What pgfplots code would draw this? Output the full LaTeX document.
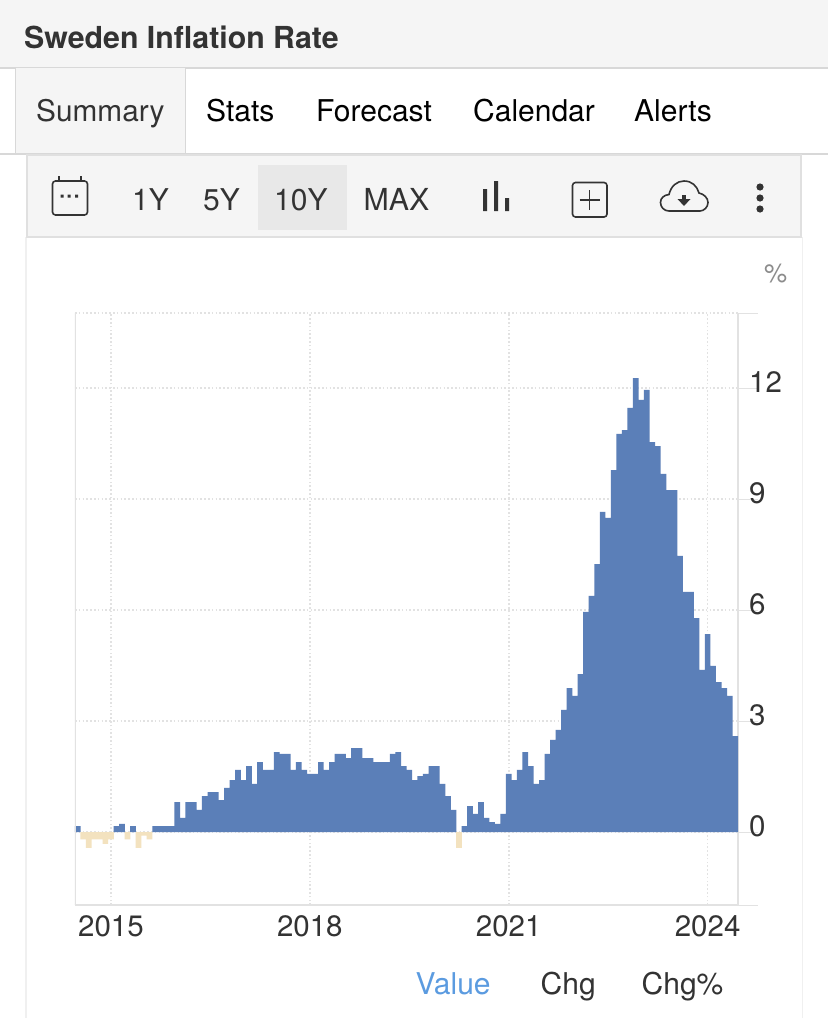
\documentclass[border=0pt]{standalone}
\usepackage{pgfplots}
\usepackage{pgfplotstable}
\usepackage{fontspec}
\pgfplotsset{compat=1.18}
\setmainfont{TeX Gyre Heros}

\definecolor{barblue}{HTML}{5B7FB8}
\definecolor{barneg}{HTML}{F3E2BF}
\definecolor{panel}{HTML}{F5F5F5}
\definecolor{rule}{HTML}{D8D8D8}
\definecolor{axisgray}{HTML}{E2E2E2}
\definecolor{gridgray}{HTML}{E2E2E2}
\definecolor{ink}{HTML}{333333}
\definecolor{linkblue}{HTML}{5B9BE0}

\newcommand{\fs}[1]{\fontsize{#1}{#1}\selectfont}

% monthly, index 0 = Jul 2014
\pgfplotstableread{
m v
0 0.16
1 -0.2
2 -0.43
3 -0.2
4 -0.2
5 -0.32
6 -0.2
7 0.16
8 0.22
9 -0.2
10 0.16
11 -0.43
12 -0.1
13 -0.2
14 0.16
15 0.16
16 0.16
17 0.16
18 0.81
19 0.38
20 0.81
21 0.81
22 0.6
23 0.97
24 1.08
25 1.08
26 0.86
27 1.19
28 1.4
29 1.68
30 1.4
31 1.78
32 1.3
33 1.89
34 1.68
35 1.68
36 2.16
37 2.11
38 2.11
39 1.68
40 1.89
41 1.68
42 1.57
43 1.57
44 1.89
45 1.68
46 1.89
47 2.11
48 2.11
49 2.0
50 2.27
51 2.27
52 2.0
53 2.0
54 1.89
55 1.89
56 1.89
57 2.11
58 2.16
59 1.78
60 1.68
61 1.4
62 1.51
63 1.57
64 1.78
65 1.78
66 1.3
67 0.97
68 0.6
69 -0.43
70 0.16
71 0.7
72 0.49
73 0.81
74 0.38
75 0.27
76 0.22
77 0.49
78 1.57
79 1.4
80 1.68
81 2.16
82 1.78
83 1.3
84 1.4
85 2.11
86 2.49
87 2.76
88 3.3
89 3.89
90 3.68
91 4.27
92 5.95
93 6.38
94 7.24
95 8.65
96 8.49
97 9.78
98 10.76
99 10.86
100 11.46
101 12.27
102 11.68
103 11.95
104 10.54
105 10.43
106 9.68
107 9.24
108 9.24
109 7.46
110 6.49
111 6.49
112 5.78
113 4.38
114 5.35
115 4.49
116 4.05
117 3.89
118 3.68
119 2.59
}\inflation

\begin{document}
\begin{tikzpicture}
\begin{scope}[x=1pt,y=-1pt]
  \path[use as bounding box] (0,0) rectangle (828,1018);
  \fill[white] (0,0) rectangle (828,1018);

  % page header and tabs
  \fill[panel] (0,0) rectangle (828,68);
  \draw[rule,line width=2pt] (0,68) -- (828,68);
  \node[anchor=base west,inner sep=0pt,text=ink] at (24,48) {\fs{30.3}\bfseries Sweden Inflation Rate};
  \fill[panel] (15,68) rectangle (185,154);
  \draw[rule,line width=1pt] (15,68) -- (15,154) (185,68) -- (185,154);
  \draw[rule,line width=2pt] (0,154) -- (828,154);
  \node[anchor=base west,inner sep=0pt,text=ink] at (36,121) {\fs{29.8}Summary};
  \node[anchor=base west,inner sep=0pt] at (206,121) {\fs{30}Stats};
  \node[anchor=base west,inner sep=0pt] at (316,121) {\fs{30}Forecast};
  \node[anchor=base west,inner sep=0pt] at (473,121) {\fs{30}Calendar};
  \node[anchor=base west,inner sep=0pt] at (634,121) {\fs{30}Alerts};

  % chart panel and toolbar
  \draw[black!6,line width=1.5pt] (26,237) -- (26,1018) (802.5,237) -- (802.5,1018);
  \filldraw[fill=panel,draw=rule!80,line width=2pt] (27,155) rectangle (801,237);
  \fill[black!9] (258,165) rectangle (347,230);
  \node[anchor=base west,inner sep=0pt,text=ink] at (132,210) {\fs{30}1Y};
  \node[anchor=base west,inner sep=0pt,text=ink] at (203,210) {\fs{30}5Y};
  \node[anchor=base west,inner sep=0pt,text=ink] at (274,210) {\fs{30}10Y};
  \node[anchor=base west,inner sep=0pt,text=ink] at (363.5,210) {\fs{30.3}MAX};

  % calendar icon
  \draw[ink,line width=1.6pt,rounded corners=3pt] (52.5,181) rectangle (87.5,215);
  \draw[ink,line width=1.6pt] (59,176) -- (59,181) (81,176) -- (81,181);
  \fill[ink] (60.5,194.5) rectangle (63.5,197.5) (67.5,194.5) rectangle (70.5,197.5) (75,194.5) rectangle (78,197.5);
  % bars icon
  \fill[ink] (483,189) rectangle (487,211) (494,181) rectangle (498,211) (505,198) rectangle (509,211);
  % plus icon
  \draw[ink,line width=1.6pt,rounded corners=3pt] (572.5,182.5) rectangle (607,217);
  \draw[ink,line width=1.4pt] (579.5,200) -- (599.5,200) (589.7,190) -- (589.7,210);
  % cloud icon
  \draw[ink,line width=1.6pt] (669,211) .. controls (664,211) and (660.5,207) .. (660.5,202.5)
    .. controls (660.5,198) and (664,195) .. (669,194.5)
    .. controls (671,186) and (677,181) .. (684,181)
    .. controls (692,181) and (697,186) .. (699,193)
    .. controls (704,194) and (708,198) .. (708,202.5)
    .. controls (708,207) and (704,211) .. (700,211) -- cycle;
  \fill[ink] (682,195) rectangle (686,200);
  \fill[ink] (677.5,199) -- (690.5,199) -- (684,206) -- cycle;
  % menu dots
  \fill[ink] (760,187) circle (3.6) (760,198) circle (3.6) (760,209) circle (3.6);

  \node[anchor=base west,inner sep=0pt,text=black!45] at (764,282) {\fs{26}\%};
  \node[anchor=base west,inner sep=0pt,text=linkblue] at (415.5,994) {\fs{30}Value};
  \node[anchor=base west,inner sep=0pt,text=ink] at (540.5,994) {\fs{30}Chg};
  \node[anchor=base west,inner sep=0pt,text=ink] at (641.5,994) {\fs{30}Chg\%};
\end{scope}

\begin{axis}[
    at={(75pt,-905pt)}, anchor=south west,
    scale only axis, width=663pt, height=592pt,
    xmin=-0.5, xmax=119.5, ymin=-1.973, ymax=14.027,
    ybar, bar width=1.03, bar shift=0pt,
    axis y line*=right, axis x line*=bottom,
    axis line style={axisgray,line width=2pt},
    xtick={6,42,78,114}, xticklabels={2015,2018,2021,2024},
    ytick={0,3,6,9,12},
    extra y ticks={-1.973,14.027}, extra y tick labels={},
    extra y tick style={grid=major},
    grid=major,
    grid style={gridgray,line width=1.6pt,dash pattern=on 1.6pt off 2.2pt},
    tick align=outside, major tick length=20pt,
    xtick style={draw=none},
    ytick style={axisgray,line width=1pt},
    /pgf/number format/assume math mode=true,
    /pgf/number format/.cd, 1000 sep={}, /pgfplots/.cd,
    ticklabel style={text=ink,font=\fs{29.5}},
    xticklabel style={inner sep=0pt,yshift=10pt},
    yticklabel style={inner sep=0pt,xshift=-9pt,yshift=6pt},
]
\addplot[draw=none,fill=barblue,restrict y to domain=0:20] table[x=m,y=v] {\inflation};
\addplot[draw=none,fill=barneg,restrict y to domain=-5:0] table[x=m,y=v] {\inflation};
\draw[axisgray,line width=2pt] (rel axis cs:0,0) -- (rel axis cs:0,1);
\end{axis}
\end{tikzpicture}
\end{document}
